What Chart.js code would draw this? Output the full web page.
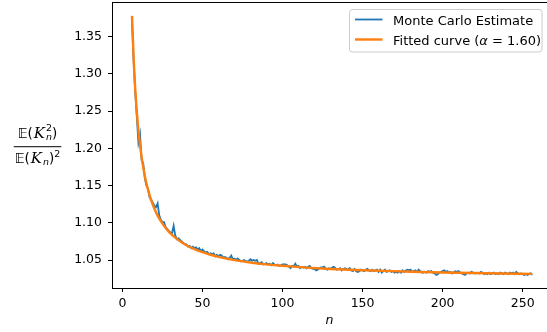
<!DOCTYPE html>
<html>
<head>
<meta charset="utf-8">
<script src="https://cdn.jsdelivr.net/npm/chart.js@4.4.0/dist/chart.umd.min.js"></script>
<style>
  html, body { margin: 0; padding: 0; background: #fff; }
</style>
</head>
<body>
<canvas id="chart" width="547" height="332"></canvas>
<script>
// Monte Carlo estimate, one value per n starting at n = 6
const mcStart = 6
const mcValues = [
  1.370, 1.318, 1.276, 1.243, 1.208, 1.219, 1.184, 1.180, 1.160, 1.150,
  1.146, 1.134, 1.131, 1.127, 1.123, 1.121, 1.126, 1.110, 1.104, 1.101,
  1.101, 1.094, 1.092, 1.089, 1.087, 1.086, 1.096, 1.083, 1.078, 1.079,
  1.077, 1.075, 1.073, 1.071, 1.071, 1.068, 1.069, 1.066, 1.068, 1.066,
  1.067, 1.064, 1.066, 1.062, 1.064, 1.062, 1.060, 1.061, 1.058, 1.059,
  1.058, 1.059, 1.055, 1.057, 1.055, 1.057, 1.056, 1.053, 1.054, 1.053,
  1.051, 1.053, 1.056, 1.051, 1.052, 1.050, 1.052, 1.050, 1.048, 1.049,
  1.050, 1.048, 1.048, 1.049, 1.051, 1.049, 1.050, 1.049, 1.050, 1.045,
  1.046, 1.047, 1.044, 1.045, 1.046, 1.044, 1.045, 1.043, 1.046, 1.044,
  1.043, 1.044, 1.042, 1.043, 1.044, 1.044, 1.044, 1.043, 1.041, 1.039,
  1.042, 1.042, 1.045, 1.041, 1.042, 1.039, 1.041, 1.040, 1.041, 1.039,
  1.041, 1.042, 1.039, 1.038, 1.038, 1.036, 1.037, 1.039, 1.040, 1.040,
  1.041, 1.038, 1.037, 1.039, 1.038, 1.040, 1.041, 1.039, 1.037, 1.038,
  1.039, 1.036, 1.038, 1.039, 1.038, 1.037, 1.039, 1.036, 1.035, 1.038,
  1.035, 1.034, 1.035, 1.037, 1.036, 1.035, 1.037, 1.038, 1.036, 1.035,
  1.037, 1.035, 1.036, 1.037, 1.034, 1.037, 1.033, 1.035, 1.037, 1.034,
  1.035, 1.036, 1.034, 1.035, 1.033, 1.034, 1.033, 1.035, 1.033, 1.036,
  1.034, 1.036, 1.037, 1.036, 1.037, 1.034, 1.035, 1.036, 1.034, 1.037,
  1.035, 1.033, 1.033, 1.034, 1.033, 1.035, 1.034, 1.035, 1.033, 1.032,
  1.030, 1.031, 1.033, 1.034, 1.035, 1.036, 1.034, 1.035, 1.033, 1.034,
  1.032, 1.034, 1.035, 1.034, 1.035, 1.033, 1.032, 1.031, 1.030, 1.032,
  1.033, 1.032, 1.034, 1.033, 1.032, 1.032, 1.033, 1.032, 1.034, 1.033,
  1.031, 1.032, 1.031, 1.033, 1.031, 1.032, 1.033, 1.031, 1.032, 1.031,
  1.033, 1.032, 1.031, 1.033, 1.032, 1.031, 1.033, 1.032, 1.033, 1.031,
  1.034, 1.032, 1.031, 1.032, 1.031, 1.030, 1.031, 1.030, 1.031, 1.032,
  1.030
]

// fitted curve, read at these n
const fitN = [6, 7, 8, 9, 10, 11, 12, 13, 14, 15, 16, 17, 18, 19, 20,
  22, 24, 26, 28, 30, 33, 36, 40, 45, 50, 55, 60, 70, 80, 90, 100,
  115, 130, 150, 175, 200, 228, 256]
const fitValues = [1.3780, 1.3217, 1.2805, 1.2492, 1.2245, 1.2046, 1.1883,
  1.1746, 1.1630, 1.1530, 1.1444, 1.1368, 1.1301, 1.1242, 1.1188,
  1.1097, 1.1022, 1.0959, 1.0905, 1.0858, 1.0800, 1.0752, 1.0699,
  1.0646, 1.0605, 1.0571, 1.0543, 1.0499, 1.0467, 1.0442, 1.0422,
  1.0398, 1.0380, 1.0362, 1.0346, 1.0333, 1.0322, 1.0314]

const xTicks = [0, 50, 100, 150, 200, 250]
const yTicks = [1.05, 1.10, 1.15, 1.20, 1.25, 1.30, 1.35]
const seriesLabels = ["Monte Carlo Estimate", "Fitted curve"]
const alphaText = "1.60"

const FAMILY = "'DejaVu Sans'"
const FS = 12.5
const BLUE = "#1f77b4"
const ORANGE = "#ff7f0e"

const topSpine = {
  id: "topSpine",
  afterDraw(chart) {
    const { ctx, chartArea } = chart
    ctx.save()
    ctx.strokeStyle = "#000"
    ctx.lineWidth = 1
    ctx.beginPath()
    ctx.moveTo(chartArea.left, chartArea.top - 0.5)
    ctx.lineTo(chartArea.right + 1, chartArea.top - 0.5)
    ctx.stroke()
    ctx.restore()
  }
}

// y label: E(K_n^2) / E(K_n)^2
const fracTitle = {
  id: "fracTitle",
  afterDraw(chart) {
    const c = chart.ctx
    const size = 13.5
    const big = size + "px " + FAMILY
    const small = (size * 0.7) + "px " + FAMILY
    const smallIt = "italic " + (size * 0.7) + "px " + FAMILY
    const cal = "italic 15px 'DejaVu Serif'"
    const width = (font, t) => { c.font = font; return c.measureText(t).width }
    const put = (font, t, x, y) => { c.font = font; c.fillText(t, x, y) }

    c.save()
    c.fillStyle = "#000"
    c.textBaseline = "alphabetic"
    const cx = 37.5
    const E = "\u{1D53C}"

    // numerator
    const nb = 137.5
    const stackW = Math.max(width(small, "2"), width(smallIt, "n"))
    const numW = width(big, E) + width(big, "(") + 1 + width(cal, "K") + 1 + stackW + width(big, ")")
    let x = cx - numW / 2
    put(big, E, x, nb); x += width(big, E)
    put(big, "(", x, nb); x += width(big, "(") + 1
    put(cal, "K", x, nb); x += width(cal, "K") + 1
    put(small, "2", x, nb - 6.5)
    put(smallIt, "n", x, nb + 2)
    x += stackW
    put(big, ")", x, nb)

    // denominator
    const db = 163
    const denW = width(big, E) + width(big, "(") + 1 + width(cal, "K") + 1 + width(smallIt, "n") + width(big, ")") + width(small, "2")
    x = cx - denW / 2
    put(big, E, x, db); x += width(big, E)
    put(big, "(", x, db); x += width(big, "(") + 1
    put(cal, "K", x, db); x += width(cal, "K") + 1
    put(smallIt, "n", x, db + 2); x += width(smallIt, "n")
    put(big, ")", x, db); x += width(big, ")")
    put(small, "2", x, db - 6.5)

    const barW = Math.max(numW, denW) + 2
    c.fillRect(cx - barW / 2, 146.2, barW, 1)
    c.restore()
  }
}

const legendBox = {
  id: "legendBox",
  afterDraw(chart) {
    const c = chart.ctx
    const lfs = 13
    const font = lfs + "px " + FAMILY
    const fontIt = "italic " + lfs + "px " + FAMILY
    c.save()
    c.beginPath()
    c.roundRect(349.5, 9.5, 192.5, 42.5, 3)
    c.fillStyle = "rgba(255,255,255,0.8)"
    c.fill()
    c.strokeStyle = "#cccccc"
    c.lineWidth = 1
    c.stroke()

    const rows = [19.5, 39.5]
    chart.data.datasets.forEach((ds, i) => {
      c.strokeStyle = ds.borderColor
      c.lineWidth = ds.borderWidth
      c.beginPath()
      c.moveTo(355, rows[i])
      c.lineTo(382.5, rows[i])
      c.stroke()
    })

    c.fillStyle = "#000"
    c.textBaseline = "alphabetic"
    c.font = font
    c.fillText(seriesLabels[0], 393, rows[0] + 5)
    let x = 393
    const t1 = seriesLabels[1] + " ("
    c.fillText(t1, x, rows[1] + 5); x += c.measureText(t1).width
    c.font = fontIt
    c.fillText("\u03b1", x, rows[1] + 5); x += c.measureText("\u03b1").width
    c.font = font
    c.fillText(" = " + alphaText + ")", x, rows[1] + 5)
    c.restore()
  }
}

const tickFont = { family: FAMILY, size: FS }
const axisGrid = { drawOnChartArea: false, drawTicks: true, tickLength: 4, color: "#000", lineWidth: 1 }
const axisBorder = { display: true, color: "#000", width: 1 }

new Chart(document.getElementById("chart"), {
  type: "line",
  data: {
    datasets: [
      {
        label: seriesLabels[0],
        data: mcValues.map((v, i) => ({ x: mcStart + i, y: v })),
        borderColor: BLUE,
        borderWidth: 1.8,
        pointRadius: 0,
        tension: 0,
        order: 1,
      },
      {
        label: seriesLabels[1],
        data: fitN.map((n, i) => ({ x: n, y: fitValues[i] })),
        borderColor: ORANGE,
        borderWidth: 2.4,
        pointRadius: 0,
        cubicInterpolationMode: "monotone",
        order: 0,
      },
    ],
  },
  options: {
    responsive: false,
    animation: false,
    devicePixelRatio: 1,
    layout: { padding: { top: 3, right: 0, left: 0, bottom: 0 } },
    plugins: {
      legend: { display: false },
      tooltip: { enabled: false },
    },
    scales: {
      x: {
        type: "linear",
        min: -6.5,
        max: 265.2,
        afterFit: (s) => { s.height = 44; s.paddingLeft = 0; s.paddingRight = 0 },
        afterBuildTicks: (s) => { s.ticks = xTicks.map(v => ({ value: v })) },
        ticks: { font: tickFont, color: "#000", padding: 4, maxRotation: 0, autoSkip: false, callback: v => String(v) },
        grid: axisGrid,
        border: axisBorder,
        title: {
          display: true,
          text: "n",
          color: "#000",
          font: { family: FAMILY, size: FS, style: "italic" },
          padding: { top: 0, bottom: 4 },
        },
      },
      y: {
        type: "linear",
        min: 1.0124,
        max: 1.3953,
        afterFit: (s) => { s.width = 112; s.paddingTop = 0; s.paddingBottom = 0 },
        afterBuildTicks: (s) => { s.ticks = yTicks.map(v => ({ value: v })) },
        ticks: { font: tickFont, color: "#000", padding: 6, callback: v => v.toFixed(2) },
        grid: axisGrid,
        border: axisBorder,
      },
    },
  },
  plugins: [topSpine, fracTitle, legendBox],
})
</script>
</body>
</html>
